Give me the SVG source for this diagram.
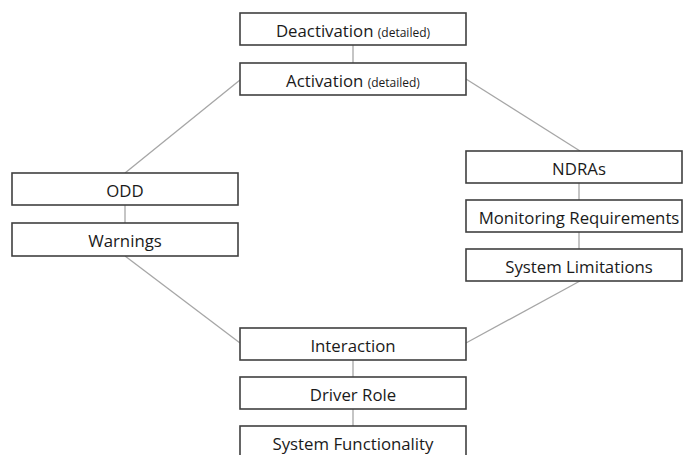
<svg xmlns="http://www.w3.org/2000/svg" width="684" height="455" viewBox="0 0 684 455">
<style>
.box{fill:#fff;stroke:#404040;stroke-width:1.6}
.lbl{font-family:"Open Sans","Liberation Sans",sans-serif;font-size:16.8px;fill:#1a1a1a;text-anchor:middle}
.sm{font-size:12px}
.con line{stroke:#a6a6a6;stroke-width:1.3}
</style>
<rect width="684" height="455" fill="#fff"/>
<g class="con">
<line x1="353" y1="45" x2="353" y2="63"/>
<line x1="240" y1="80" x2="125" y2="173"/>
<line x1="466" y1="79" x2="580" y2="151"/>
<line x1="125" y1="205" x2="125" y2="223"/>
<line x1="125" y1="256" x2="240" y2="343"/>
<line x1="579" y1="183" x2="579" y2="200"/>
<line x1="579" y1="232" x2="579" y2="249"/>
<line x1="580" y1="281" x2="466" y2="343"/>
<line x1="353" y1="360" x2="353" y2="377"/>
<line x1="353" y1="409" x2="353" y2="426"/>
</g>
<g id="deactivation"><rect class="box" x="240" y="13" width="226" height="32"/><text class="lbl" x="353" y="36.5">Deactivation <tspan class="sm">(detailed)</tspan></text></g>
<g id="activation"><rect class="box" x="240" y="63" width="226" height="32"/><text class="lbl" x="353" y="86.5">Activation <tspan class="sm">(detailed)</tspan></text></g>
<g id="odd"><rect class="box" x="12" y="173" width="226" height="32"/><text class="lbl" x="125" y="196.5">ODD</text></g>
<g id="warnings"><rect class="box" x="12" y="223" width="226" height="33"/><text class="lbl" x="125" y="246.5">Warnings</text></g>
<g id="ndras"><rect class="box" x="466" y="151" width="216" height="32"/><text class="lbl" x="579" y="174.5">NDRAs</text></g>
<g id="monitoring"><rect class="box" x="466" y="200" width="216" height="32"/><text class="lbl" x="579" y="223.5">Monitoring Requirements</text></g>
<g id="limitations"><rect class="box" x="466" y="249" width="216" height="32"/><text class="lbl" x="579" y="272.5">System Limitations</text></g>
<g id="interaction"><rect class="box" x="240" y="328" width="226" height="32"/><text class="lbl" x="353" y="351.5">Interaction</text></g>
<g id="driver-role"><rect class="box" x="240" y="377" width="226" height="32"/><text class="lbl" x="353" y="400.5">Driver Role</text></g>
<g id="system-functionality"><rect class="box" x="240" y="426" width="226" height="40"/><text class="lbl" x="353" y="449.5">System Functionality</text></g>
</svg>
